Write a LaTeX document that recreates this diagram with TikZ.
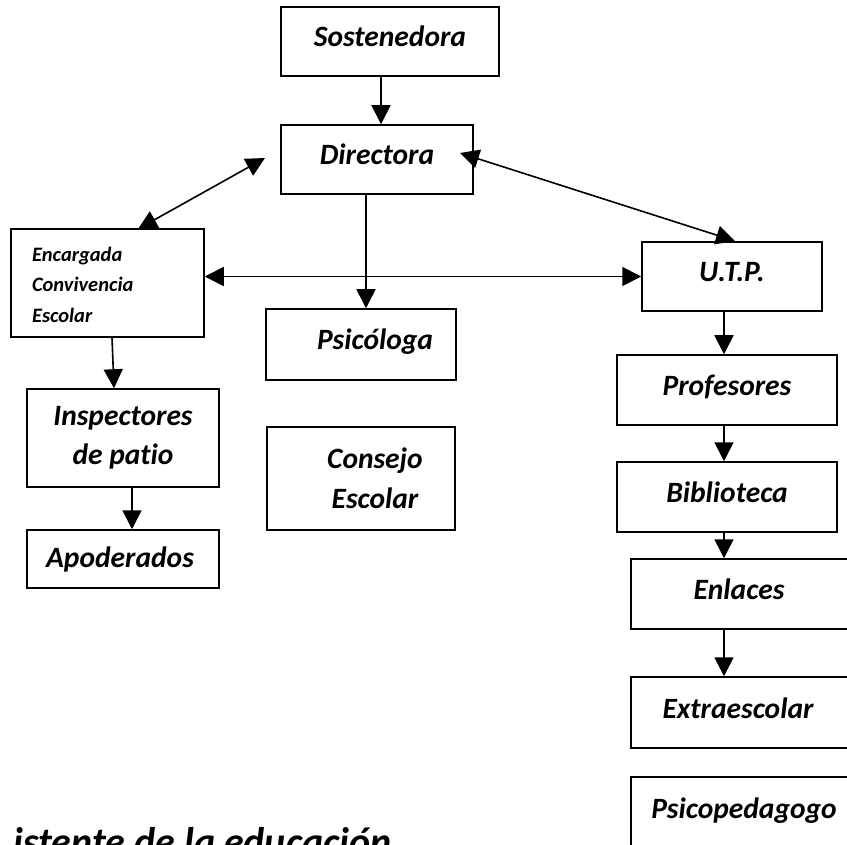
\documentclass[tikz,border=0pt]{standalone}
\usepackage{fontspec}
\setmainfont{Carlito}[Ligatures=NoCommon]
\usetikzlibrary{arrows.meta}
\tikzset{
  box/.style={draw, line width=1.5pt, inner sep=0pt, anchor=center,
    font=\fontsize{29.5}{39.5}\selectfont\bfseries\itshape},
  one/.style={text height=21pt, text depth=10pt},
  conn/.style={line width=1.6pt, -{Triangle[length=19pt,width=19pt]}},
  dconn/.style={line width=1.6pt, {Triangle[length=19pt,width=19pt]}-{Triangle[length=19pt,width=19pt]}}
}
\begin{document}
\begin{tikzpicture}[x=1pt,y=-1pt]
\useasboundingbox (0,0) rectangle (847,845);
\clip (0,0) rectangle (847,845);
\fill[white] (0,0) rectangle (847,845);

\node[box,one,minimum width=218pt,minimum height=69pt] (sost) at (390,41.5) {Sostenedora};
\node[box,one,minimum width=192pt,minimum height=69pt] (dir) at (377,159.5) {Directora};
\node[box,minimum width=193pt,minimum height=108pt,text width=151pt,inner xsep=21pt,align=left,
  font=\fontsize{20.5}{30.5}\selectfont\bfseries\itshape] (enc) at (107.5,283) {\rule{0pt}{18pt}Encargada\\Convivencia\\Escolar};
\node[box,minimum width=192pt,minimum height=98pt,align=center] (insp) at (123,438) {Inspectores\\de patio};
\node[box,one,minimum width=192pt,minimum height=58pt,text depth=4pt] (apod) at (123,559) {\hspace*{-6pt}Apoderados};
\node[box,one,minimum width=190pt,minimum height=71pt] (psi) at (361,344.5) {\hspace*{28pt}Psicóloga};
\node[box,minimum width=188pt,minimum height=103pt,align=center] (cons) at (361,478.5) {\hspace*{28pt}Consejo\\\hspace*{28pt}Escolar};
\node[box,one,minimum width=180pt,minimum height=69pt] (utp) at (732,276.5) {U.T.P.};
\node[box,one,minimum width=220pt,minimum height=70pt] (prof) at (727,390) {Profesores};
\node[box,one,minimum width=220pt,minimum height=70pt] (bib) at (727,497) {Biblioteca};
\node[box,one,minimum width=220pt,minimum height=70pt] (enl) at (741,594) {\hspace*{-4pt}Enlaces};
\node[box,one,minimum width=220pt,minimum height=71pt] (ext) at (741,712.5) {\hspace*{-6pt}Extraescolar};
\node[box,one,minimum width=220pt,minimum height=72pt] (psp) at (741,813) {\hspace*{6pt}Psicopedagogo};

\node[anchor=base west, inner sep=0pt, font=\fontsize{40}{48}\selectfont\bfseries\itshape] (asist) at (13,855) {istente de la educación};

\coordinate (encTip) at (138,229);
\coordinate (dirTipL) at (265,158);
\coordinate (dirTipR) at (460,153);
\coordinate (utpTip) at (735,241);

\draw[conn] (sost.south -| 381,0) -- (dir.north -| 381,0);
\draw[dconn] (encTip) -- (dirTipL);
\draw[dconn] (dirTipR) -- (utpTip);
\draw[dconn] (enc.east |- utp.west) -- (utp.west);
\draw[conn] (dir.south -| 366,0) -- (psi.north -| 366,0);
\draw[conn] ([xshift=4.5pt]enc.south) -- ([xshift=-9pt]insp.north);
\draw[conn] (insp.south -| 132,0) -- (apod.north -| 132,0);
\draw[conn] (utp.south -| 724,0) -- (prof.north -| 724,0);
\draw[conn] (prof.south -| 724,0) -- (bib.north -| 724,0);
\draw[conn] (bib.south -| 724,0) -- (enl.north -| 724,0);
\draw[conn] (enl.south -| 724,0) -- (ext.north -| 724,0);
\end{tikzpicture}
\end{document}
